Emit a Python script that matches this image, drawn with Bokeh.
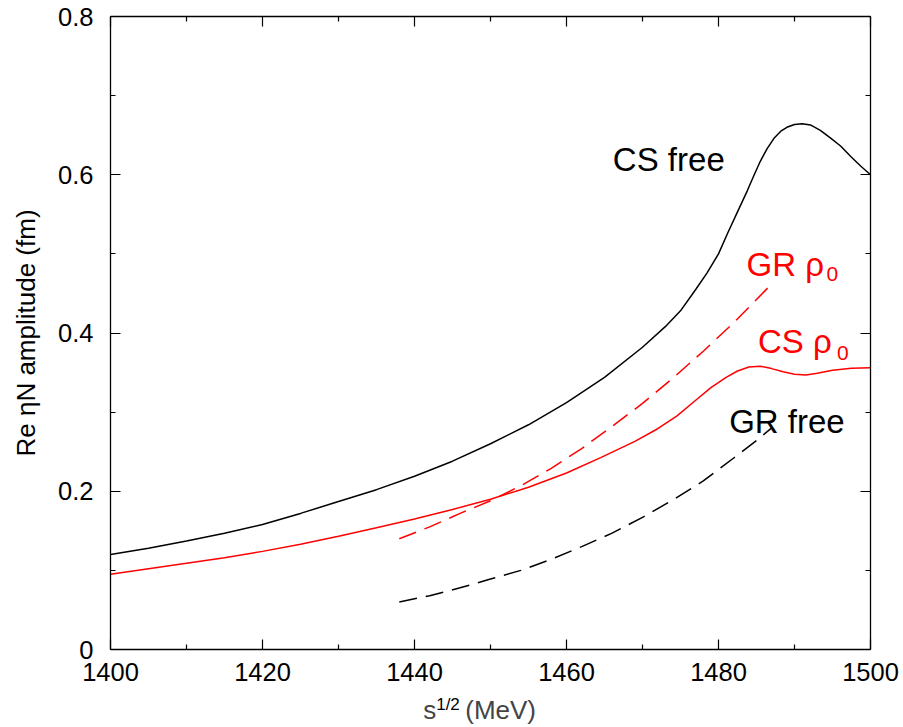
from bokeh.plotting import figure
from bokeh.models import Range1d, LinearAxis, FixedTicker, Label, CustomLabelingPolicy
from bokeh.embed import file_html
from bokeh.resources import INLINE

# eta-N amplitude curves, sqrt(s) in MeV, Re amplitude in fm
cs_free_x = [1400, 1405, 1410, 1415, 1420, 1425, 1430, 1435, 1440, 1445, 1450, 1455,
             1460, 1465, 1470, 1473, 1475, 1477, 1478.5, 1480, 1481.2, 1482.5, 1483.8,
             1484.7, 1485.5, 1486.4, 1487.3, 1488.2, 1489, 1490, 1491, 1492.1, 1493.4,
             1494.8, 1496.1, 1497.4, 1498.7, 1500]
cs_free_y = [0.120, 0.128, 0.137, 0.147, 0.158, 0.172, 0.187, 0.202, 0.219, 0.238, 0.260, 0.284,
             0.312, 0.344, 0.382, 0.408, 0.428, 0.455, 0.476, 0.500, 0.526, 0.553, 0.580,
             0.600, 0.617, 0.633, 0.646, 0.655, 0.660, 0.6635, 0.6645, 0.663, 0.656,
             0.646, 0.636, 0.623, 0.611, 0.600]

cs_rho_x = [1400, 1405, 1410, 1415, 1420, 1425, 1430, 1435, 1440, 1445, 1450, 1455,
            1460, 1464.5, 1469, 1472, 1474.5, 1477, 1479, 1481, 1482.5, 1484, 1485.5,
            1487, 1488.5, 1490, 1491.5, 1493, 1495, 1497.5, 1500]
cs_rho_y = [0.095, 0.102, 0.109, 0.116, 0.124, 0.133, 0.143, 0.154, 0.165, 0.177, 0.190, 0.205,
            0.223, 0.2425, 0.263, 0.279, 0.295, 0.315, 0.331, 0.344, 0.352, 0.357, 0.358,
            0.355, 0.351, 0.348, 0.347, 0.349, 0.353, 0.3555, 0.356]

gr_rho_x = [1438, 1442, 1446, 1450, 1454, 1458, 1462, 1466, 1470, 1474, 1478, 1482, 1486.7]
gr_rho_y = [0.140, 0.155, 0.172, 0.188, 0.207, 0.229, 0.254, 0.282, 0.311, 0.343, 0.377, 0.413, 0.459]

gr_free_x = [1438, 1442, 1446, 1450, 1454, 1458, 1462, 1466, 1470, 1474, 1478, 1482, 1485, 1487]
gr_free_y = [0.060, 0.068, 0.078, 0.089, 0.100, 0.114, 0.130, 0.147, 0.167, 0.189, 0.213, 0.242,
             0.264, 0.280]

x_ticks = [1400, 1420, 1440, 1460, 1480, 1500]
x_minor = [1410, 1430, 1450, 1470, 1490]
y_ticks = [0, 0.2, 0.4, 0.6, 0.8]
y_minor = [0.1, 0.3, 0.5, 0.7]
y_tick_labels = ["0", "0.2", "0.4", "0.6", "0.8"]

FONT = "Liberation Sans"
RED = "#ff0000"
NB = "\u00a0"

p = figure(width=903, height=727, output_backend="svg", toolbar_location=None,
           x_range=Range1d(1400, 1500), y_range=Range1d(0, 0.8),
           min_border_left=110, min_border_right=33, min_border_top=16, min_border_bottom=77,
           x_axis_location=None, y_axis_location=None)
p.grid.visible = False
p.outline_line_color = None
p.background_fill_color = "white"
p.border_fill_color = "white"

xt = FixedTicker(ticks=x_ticks, minor_ticks=x_minor)
yt = FixedTicker(ticks=y_ticks, minor_ticks=y_minor)

# mirrored frame axes carry ticks only
no_labels = CustomLabelingPolicy(code="for (const i of indices) indices.unset(i); return indices")


def style(ax, show_labels):
    ax.axis_line_color = "black"
    ax.axis_line_width = 1.3
    ax.major_tick_line_color = "black"
    ax.minor_tick_line_color = "black"
    ax.major_tick_line_width = 1.2
    ax.minor_tick_line_width = 1.2
    ax.major_tick_in = 10
    ax.major_tick_out = 0
    ax.minor_tick_in = 5
    ax.minor_tick_out = 0
    ax.major_label_text_font = FONT
    ax.major_label_text_color = "black"
    ax.axis_label_text_font = FONT
    ax.axis_label_text_font_style = "normal"
    ax.axis_label_text_color = "black"
    if show_labels:
        ax.major_label_text_font_size = "25.5px"
    else:
        ax.major_label_text_font_size = "1px"
        ax.major_label_standoff = 0
        ax.major_label_policy = no_labels


bottom = LinearAxis(ticker=xt)
style(bottom, True)
bottom.major_label_standoff = 13
# superscript of the x title sits in the tick axis' own label slot
bottom.axis_label = "1/2" + NB * 18
bottom.axis_label_text_font_size = "17px"
bottom.axis_label_standoff = 11
p.add_layout(bottom, "below")

title_axis = LinearAxis(ticker=FixedTicker(ticks=[]))
title_axis.axis_line_color = None
title_axis.major_tick_line_color = None
title_axis.minor_tick_line_color = None
title_axis.major_tick_out = 0
title_axis.minor_tick_out = 0
title_axis.major_label_text_font_size = "1px"
title_axis.major_label_standoff = 0
title_axis.axis_label = "s" + NB * 4 + "(MeV)" + NB * 3
title_axis.axis_label_text_font = FONT
title_axis.axis_label_text_font_style = "normal"
title_axis.axis_label_text_font_size = "26px"
title_axis.axis_label_standoff = -22
p.add_layout(title_axis, "below")

top = LinearAxis(ticker=xt)
style(top, False)
p.add_layout(top, "above")

left = LinearAxis(ticker=yt)
style(left, True)
left.major_label_standoff = 17
left.major_label_overrides = {t: s for t, s in zip(y_ticks, y_tick_labels)}
left.axis_label = "Re \u03b7N amplitude (fm)"
left.axis_label_text_font_size = "26px"
left.axis_label_standoff = 14
p.add_layout(left, "left")

right = LinearAxis(ticker=yt)
style(right, False)
p.add_layout(right, "right")

# curves
p.line(cs_free_x, cs_free_y, line_color="black", line_width=1.5)
p.line(cs_rho_x, cs_rho_y, line_color=RED, line_width=1.5)
p.line(gr_rho_x, gr_rho_y, line_color=RED, line_width=1.5, line_dash="18 9")
p.line(gr_free_x, gr_free_y, line_color="black", line_width=1.5, line_dash="18 9")


def label(x, y, text, color="black", size="33px"):
    p.add_layout(Label(x=x, y=y, text=text, text_color=color, text_font=FONT,
                       text_font_size=size, text_align="left",
                       text_baseline="alphabetic"))


# curve labels
label(1466.1, 0.619, "CS free")
label(1483.7, 0.487, "GR \u03c1", RED)
label(1494.2, 0.475, "0", RED, "21px")
label(1485.2, 0.389, "CS \u03c1", RED)
label(1495.6, 0.375, "0", RED, "21px")
label(1481.4, 0.288, "GR free")

open("out.html", "w").write(file_html(p, INLINE))
